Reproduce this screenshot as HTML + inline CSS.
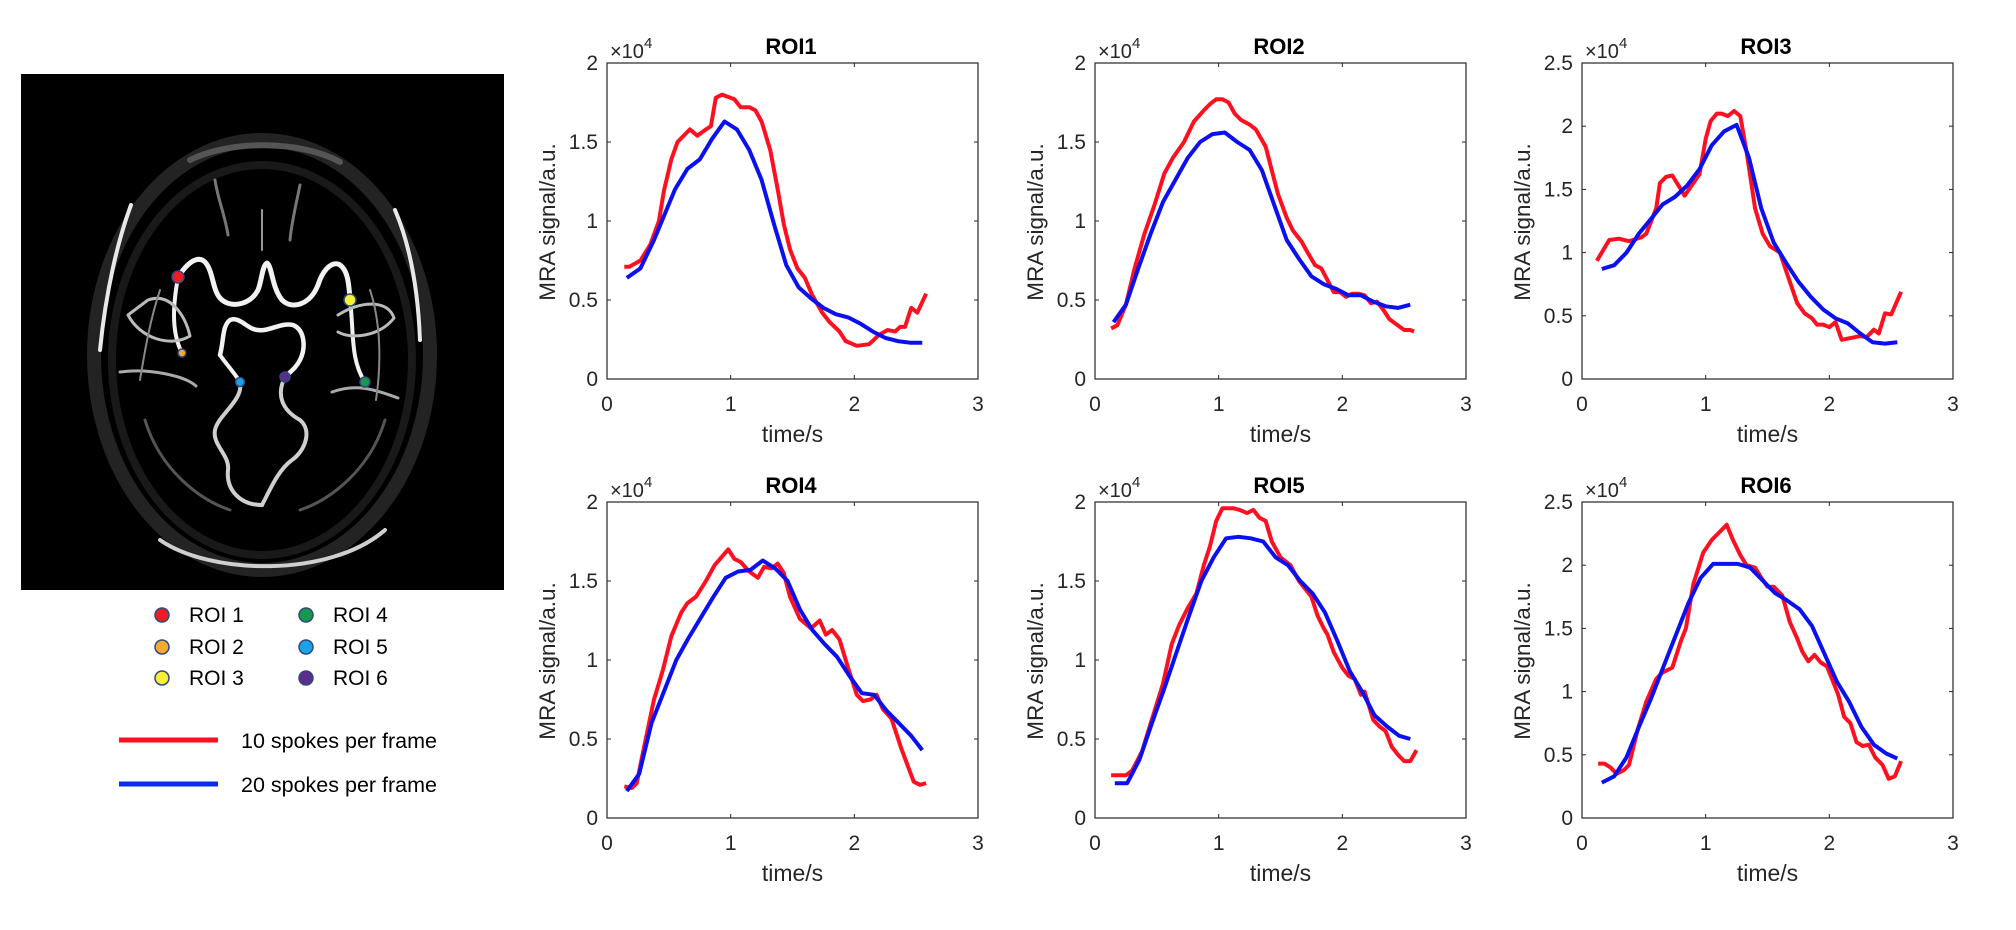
<!DOCTYPE html>
<html><head><meta charset="utf-8">
<style>
html,body{margin:0;padding:0;background:#fff;}
body{width:2016px;height:930px;overflow:hidden;position:relative;font-family:"Liberation Sans",Arial,sans-serif;}
svg{position:absolute;left:0;top:0;}
</style></head>
<body>
<svg id="fig" width="2016" height="930" viewBox="0 0 2016 930">
  <g>
    <rect x="21" y="74" width="483" height="516" fill="#000"/>
    <g fill="none" stroke="#bdbdbd" stroke-linecap="round" stroke-linejoin="round">
      <ellipse cx="262" cy="355" rx="168" ry="215" stroke="#3a3a3a" stroke-width="14" opacity="0.6"/>
      <ellipse cx="262" cy="360" rx="150" ry="195" stroke="#2a2a2a" stroke-width="8" opacity="0.6"/>
      <path d="M131 205 C118 240,106 290,100 350" stroke="#e8e8e8" stroke-width="4"/>
      <path d="M395 210 C410 245,418 290,420 340" stroke="#e8e8e8" stroke-width="4"/>
      <path d="M160 540 C210 575,330 578,385 530" stroke="#cfcfcf" stroke-width="4"/>
      <path d="M190 160 C230 140,300 140,340 162" stroke="#555" stroke-width="6"/>
      <path d="M215 180 C218 200,225 215,228 235" stroke="#777" stroke-width="3"/>
      <path d="M300 185 C296 205,292 220,290 240" stroke="#777" stroke-width="3"/>
      <path d="M145 420 C160 470,200 500,230 510" stroke="#555" stroke-width="3"/>
      <path d="M385 420 C370 470,330 500,300 510" stroke="#555" stroke-width="3"/>
    </g>
    <g fill="none" stroke="#f2f2f2" stroke-linecap="round" stroke-linejoin="round">
      <path d="M178 277 C188 262,198 255,205 262 C214 272,212 292,222 300 C232 308,250 305,258 290 C262 280,262 266,267 263 C272 266,272 288,282 300 C292 310,310 305,318 285 C322 272,330 262,338 264 C348 268,349 285,350 300" stroke-width="5"/>
      <path d="M220 355 C224 340,222 326,230 320 C240 316,248 330,258 330 C268 332,282 322,293 325 C305 330,306 348,300 360 C296 368,290 372,285 377" stroke-width="4.5"/>
      <path d="M220 355 C226 364,234 372,240 382" stroke-width="4"/>
      <path d="M240 382 C244 400,218 415,215 430 C212 445,230 455,228 470 C226 490,240 505,262 505" stroke-width="4" stroke="#cfcfcf"/>
      <path d="M285 377 C276 395,282 410,300 420 C312 430,306 450,292 460 C278 470,270 490,262 505" stroke-width="4" stroke="#cfcfcf"/>
      <path d="M178 277 C174 300,170 330,182 353" stroke-width="4"/>
      <path d="M350 300 C354 330,350 360,365 382" stroke-width="4"/>
      <path d="M148 300 C170 292,185 315,190 336 C170 348,140 338,128 315 Z" stroke-width="3" stroke="#bbb"/>
      <path d="M120 372 C150 368,185 376,196 386" stroke-width="3" stroke="#aaa"/>
      <path d="M338 315 C362 300,388 300,394 318 C380 336,352 340,338 332" stroke-width="3" stroke="#bbb"/>
      <path d="M332 392 C360 382,380 392,398 398" stroke-width="3" stroke="#aaa"/>
      <path d="M160 290 C150 320,145 350,140 380" stroke-width="2" stroke="#888"/>
      <path d="M370 290 C380 320,382 360,376 400" stroke-width="2" stroke="#888"/>
      <path d="M262 210 L262 250" stroke-width="2" stroke="#999"/>
    </g>
    <g stroke="#2f4a7a" stroke-width="1.5">
      <circle cx="178" cy="277" r="6" fill="#f01c24"/>
      <circle cx="182" cy="353" r="4" fill="#f6a834"/>
      <circle cx="350" cy="300" r="6" fill="#f7f035"/>
      <circle cx="365" cy="382" r="5" fill="#159a4c"/>
      <circle cx="240" cy="382" r="4.5" fill="#1aa3e8"/>
      <circle cx="285" cy="377" r="5" fill="#5b2d8e"/>
    </g>
  </g>
  <g font-size="21" fill="#000">
    <g stroke="#2f4a7a" stroke-width="1.5">
      <circle cx="162" cy="615" r="7" fill="#f01c24"/>
      <circle cx="162" cy="647" r="7" fill="#f6a834"/>
      <circle cx="162" cy="678" r="7" fill="#f7f035"/>
      <circle cx="306" cy="615" r="7" fill="#159a4c"/>
      <circle cx="306" cy="647" r="7" fill="#1aa3e8"/>
      <circle cx="306" cy="678" r="7" fill="#5b2d8e"/>
    </g>
    <text x="189" y="622">ROI 1</text>
    <text x="189" y="654">ROI 2</text>
    <text x="189" y="685">ROI 3</text>
    <text x="333" y="622">ROI 4</text>
    <text x="333" y="654">ROI 5</text>
    <text x="333" y="685">ROI 6</text>
  </g>
  <g font-size="21.5">
    <line x1="119" y1="740" x2="218" y2="740" stroke="#ff1020" stroke-width="5"/>
    <text x="241" y="748">10 spokes per frame</text>
    <line x1="119" y1="784" x2="218" y2="784" stroke="#0a2cf0" stroke-width="5"/>
    <text x="241" y="792">20 spokes per frame</text>
  </g>
  <g id="charts"></g>
</svg>
<script>
const xTicks = [0, 1, 2, 3];
const xTickLabels = ["0", "1", "2", "3"];
const titles = ["ROI1", "ROI2", "ROI3", "ROI4", "ROI5", "ROI6"];
const yMaxes = [2, 2, 2.5, 2, 2, 2.5];

const roi1RedT = [0.14,0.18,0.27,0.35,0.42,0.46,0.52,0.57,0.67,0.73,0.8,0.84,0.88,0.93,1.03,1.08,1.15,1.2,1.25,1.32,1.38,1.43,1.48,1.54,1.6,1.66,1.74,1.8,1.88,1.93,2.02,2.12,2.2,2.27,2.33,2.37,2.41,2.46,2.51,2.58];
const roi1RedV = [0.71,0.71,0.75,0.85,1.0,1.19,1.39,1.5,1.58,1.54,1.58,1.6,1.78,1.8,1.77,1.72,1.72,1.7,1.63,1.45,1.2,0.98,0.82,0.7,0.64,0.53,0.42,0.36,0.3,0.24,0.21,0.22,0.28,0.31,0.30,0.33,0.33,0.45,0.42,0.54];
const roi1BlueT = [0.16,0.27,0.38,0.55,0.65,0.75,0.85,0.95,1.05,1.15,1.25,1.35,1.45,1.55,1.65,1.75,1.85,1.95,2.05,2.15,2.25,2.35,2.45,2.55];
const roi1BlueV = [0.64,0.7,0.88,1.2,1.33,1.39,1.52,1.63,1.58,1.45,1.26,0.98,0.72,0.58,0.51,0.45,0.41,0.39,0.35,0.30,0.26,0.24,0.23,0.23];

const roi2RedT = [0.13,0.18,0.25,0.32,0.4,0.48,0.56,0.63,0.72,0.8,0.88,0.93,0.98,1.03,1.08,1.13,1.18,1.25,1.3,1.38,1.43,1.48,1.55,1.6,1.67,1.72,1.78,1.83,1.93,1.98,2.03,2.08,2.13,2.18,2.23,2.28,2.33,2.38,2.43,2.5,2.55,2.58];
const roi2RedV = [0.32,0.34,0.47,0.7,0.92,1.1,1.3,1.4,1.5,1.63,1.7,1.74,1.77,1.77,1.75,1.68,1.64,1.61,1.58,1.47,1.32,1.17,1.02,0.94,0.87,0.8,0.72,0.7,0.55,0.55,0.52,0.54,0.54,0.53,0.48,0.49,0.44,0.38,0.35,0.31,0.31,0.3];
const roi2BlueT = [0.15,0.25,0.35,0.45,0.55,0.65,0.75,0.85,0.95,1.05,1.15,1.25,1.35,1.45,1.55,1.65,1.75,1.85,1.95,2.05,2.15,2.25,2.35,2.45,2.55];
const roi2BlueV = [0.36,0.47,0.7,0.92,1.12,1.26,1.4,1.5,1.55,1.56,1.5,1.45,1.32,1.1,0.88,0.76,0.65,0.6,0.57,0.53,0.53,0.49,0.46,0.45,0.47];

const roi3RedT = [0.12,0.22,0.3,0.38,0.48,0.52,0.6,0.63,0.68,0.73,0.8,0.83,0.9,0.95,1.0,1.04,1.09,1.13,1.18,1.23,1.28,1.33,1.4,1.46,1.52,1.6,1.67,1.74,1.8,1.86,1.9,1.95,2.0,2.05,2.1,2.2,2.25,2.3,2.36,2.4,2.45,2.5,2.58];
const roi3RedV = [0.935,1.1,1.11,1.09,1.12,1.15,1.35,1.55,1.6,1.61,1.5,1.45,1.55,1.62,1.9,2.04,2.1,2.1,2.08,2.12,2.08,1.8,1.35,1.15,1.05,1.0,0.8,0.6,0.52,0.48,0.43,0.43,0.41,0.45,0.31,0.33,0.34,0.33,0.39,0.36,0.52,0.51,0.69];
const roi3BlueT = [0.16,0.26,0.36,0.46,0.56,0.65,0.75,0.85,0.95,1.05,1.15,1.25,1.35,1.45,1.55,1.65,1.75,1.85,1.95,2.05,2.15,2.25,2.35,2.45,2.55];
const roi3BlueV = [0.87,0.9,1.0,1.15,1.27,1.38,1.44,1.53,1.66,1.85,1.96,2.01,1.75,1.35,1.08,0.92,0.77,0.65,0.55,0.48,0.44,0.36,0.29,0.28,0.29];

const roi4RedT = [0.14,0.2,0.24,0.3,0.38,0.45,0.52,0.6,0.65,0.72,0.8,0.87,0.98,1.03,1.08,1.15,1.22,1.27,1.33,1.38,1.43,1.48,1.56,1.65,1.72,1.77,1.82,1.88,1.95,2.02,2.07,2.13,2.18,2.23,2.3,2.38,2.48,2.53,2.58];
const roi4RedV = [0.2,0.19,0.22,0.45,0.75,0.93,1.15,1.3,1.36,1.4,1.5,1.6,1.7,1.64,1.62,1.56,1.52,1.59,1.58,1.61,1.55,1.4,1.26,1.2,1.25,1.16,1.19,1.13,0.95,0.78,0.74,0.75,0.78,0.69,0.63,0.44,0.23,0.21,0.22];
const roi4BlueT = [0.16,0.26,0.36,0.46,0.56,0.66,0.76,0.86,0.96,1.06,1.16,1.26,1.36,1.46,1.56,1.66,1.76,1.86,1.96,2.06,2.16,2.26,2.36,2.46,2.55];
const roi4BlueV = [0.17,0.28,0.6,0.8,1.0,1.14,1.27,1.4,1.52,1.56,1.57,1.63,1.58,1.5,1.32,1.19,1.1,1.02,0.9,0.79,0.78,0.68,0.6,0.52,0.43];

const roi5RedT = [0.13,0.25,0.3,0.38,0.45,0.55,0.62,0.68,0.75,0.82,0.88,0.93,0.98,1.03,1.12,1.17,1.23,1.28,1.33,1.38,1.43,1.5,1.58,1.65,1.7,1.75,1.8,1.85,1.88,1.93,2.0,2.05,2.1,2.15,2.18,2.25,2.3,2.35,2.4,2.45,2.5,2.55,2.6];
const roi5RedV = [0.27,0.27,0.3,0.42,0.6,0.85,1.1,1.22,1.33,1.42,1.6,1.72,1.88,1.96,1.96,1.95,1.93,1.95,1.9,1.88,1.75,1.65,1.6,1.5,1.45,1.4,1.28,1.2,1.16,1.05,0.95,0.9,0.88,0.78,0.8,0.62,0.58,0.55,0.45,0.4,0.36,0.36,0.43];
const roi5BlueT = [0.16,0.26,0.36,0.46,0.56,0.66,0.76,0.86,0.96,1.06,1.16,1.26,1.36,1.46,1.56,1.66,1.76,1.86,1.96,2.06,2.16,2.26,2.36,2.46,2.55];
const roi5BlueV = [0.22,0.22,0.37,0.6,0.82,1.05,1.28,1.5,1.65,1.77,1.78,1.77,1.75,1.65,1.6,1.5,1.42,1.3,1.12,0.93,0.8,0.65,0.58,0.52,0.5];

const roi6RedT = [0.13,0.18,0.23,0.28,0.34,0.38,0.45,0.52,0.6,0.65,0.73,0.8,0.84,0.9,0.98,1.05,1.12,1.17,1.22,1.28,1.33,1.4,1.45,1.5,1.55,1.62,1.68,1.74,1.78,1.83,1.88,1.93,1.98,2.03,2.07,2.12,2.17,2.22,2.27,2.32,2.37,2.43,2.48,2.53,2.58];
const roi6RedV = [0.43,0.43,0.4,0.35,0.38,0.42,0.7,0.92,1.1,1.15,1.19,1.4,1.5,1.85,2.1,2.2,2.27,2.32,2.2,2.08,2.0,1.98,1.9,1.83,1.83,1.76,1.55,1.42,1.32,1.24,1.29,1.23,1.2,1.08,0.98,0.8,0.75,0.6,0.57,0.58,0.48,0.42,0.31,0.33,0.45];
const roi6BlueT = [0.16,0.26,0.36,0.46,0.56,0.66,0.76,0.86,0.96,1.06,1.16,1.26,1.36,1.46,1.56,1.66,1.76,1.86,1.96,2.06,2.16,2.26,2.36,2.46,2.55];
const roi6BlueV = [0.28,0.33,0.48,0.72,0.95,1.2,1.45,1.7,1.9,2.01,2.01,2.01,1.98,1.88,1.78,1.72,1.65,1.52,1.3,1.08,0.92,0.72,0.58,0.51,0.47];

const redT = [roi1RedT, roi2RedT, roi3RedT, roi4RedT, roi5RedT, roi6RedT];
const redV = [roi1RedV, roi2RedV, roi3RedV, roi4RedV, roi5RedV, roi6RedV];
const blueT = [roi1BlueT, roi2BlueT, roi3BlueT, roi4BlueT, roi5BlueT, roi6BlueT];
const blueV = [roi1BlueV, roi2BlueV, roi3BlueV, roi4BlueV, roi5BlueV, roi6BlueV];

const NS = "http://www.w3.org/2000/svg";
const root = document.getElementById("charts");
const colX = [607, 1095, 1582], rowY = [63, 502], W = 371, H = 316, XMAX = 3;

function mk(tag, attrs, parent) {
  const e = document.createElementNS(NS, tag);
  for (const k in attrs) e.setAttribute(k, attrs[k]);
  parent.appendChild(e);
  return e;
}

for (let i = 0; i < 6; i++) {
  const x0 = colX[i % 3], y0 = rowY[Math.floor(i / 3)], ymax = yMaxes[i];
  const sx = v => x0 + v / XMAX * W;
  const sy = v => y0 + H - v / ymax * H;
  const g = mk("g", {}, root);
  
  

  const box = mk("rect", {x: x0, y: y0, width: W, height: H, fill: "#fff", stroke: "#262626", "stroke-width": 1.2}, g);
  
  

  xTicks.forEach((t, k) => {
    const X = sx(t);
    mk("line", {x1: X, y1: y0 + H, x2: X, y2: y0 + H - 4, stroke: "#262626", "stroke-width": 1}, g);
    mk("line", {x1: X, y1: y0, x2: X, y2: y0 + 4, stroke: "#262626", "stroke-width": 1}, g);
    const tx = mk("text", {x: X, y: y0 + H + 32, "text-anchor": "middle", "font-size": 21, fill: "#262626"}, g);
    tx.textContent = xTickLabels[k];
    
    
  });
  for (let v = 0; v <= ymax + 1e-9; v += 0.5) {
    const Y = sy(v);
    mk("line", {x1: x0, y1: Y, x2: x0 + 4, y2: Y, stroke: "#262626", "stroke-width": 1}, g);
    mk("line", {x1: x0 + W, y1: Y, x2: x0 + W - 4, y2: Y, stroke: "#262626", "stroke-width": 1}, g);
    const ty = mk("text", {x: x0 - 9, y: Y + 7, "text-anchor": "end", "font-size": 21, fill: "#262626"}, g);
    ty.textContent = (v === 0 ? "0" : (Number.isInteger(v) ? String(v) : v.toFixed(1)));
    
    
  }
  const ex = mk("text", {x: x0 + 3, y: y0 - 5, "font-size": 20, fill: "#262626"}, g);
  ex.innerHTML = '\u00d710<tspan dy="-10" font-size="15">4</tspan>';
  
  
  const ti = mk("text", {x: x0 + 184, y: y0 - 9, "text-anchor": "middle", "font-size": 22, "font-weight": "bold", fill: "#000"}, g);
  ti.textContent = titles[i];
  
  
  const xl = mk("text", {x: x0 + W / 2, y: y0 + H + 63, "text-anchor": "middle", "font-size": 23, fill: "#262626"}, g);
  xl.textContent = "time/s";
  
  
  const yl = mk("text", {x: 0, y: 0, "text-anchor": "middle", "font-size": 22.5, fill: "#262626", transform: "translate(" + (x0 - 52) + "," + (y0 + 159) + ") rotate(-90)"}, g);
  yl.textContent = "MRA signal/a.u.";
  
  

  const series = [[redT[i], redV[i], "#ff1020", "series-10-spokes"], [blueT[i], blueV[i], "#0a10f0", "series-20-spokes"]];
  series.forEach(s => {
    const pts = s[0].map((t, k) => sx(t).toFixed(1) + "," + sy(s[1][k]).toFixed(1)).join(" ");
    const pl = mk("polyline", {points: pts, fill: "none", stroke: s[2], "stroke-width": 4, "stroke-linejoin": "round"}, g);
    
    
  });
}
</script>
</body></html>
